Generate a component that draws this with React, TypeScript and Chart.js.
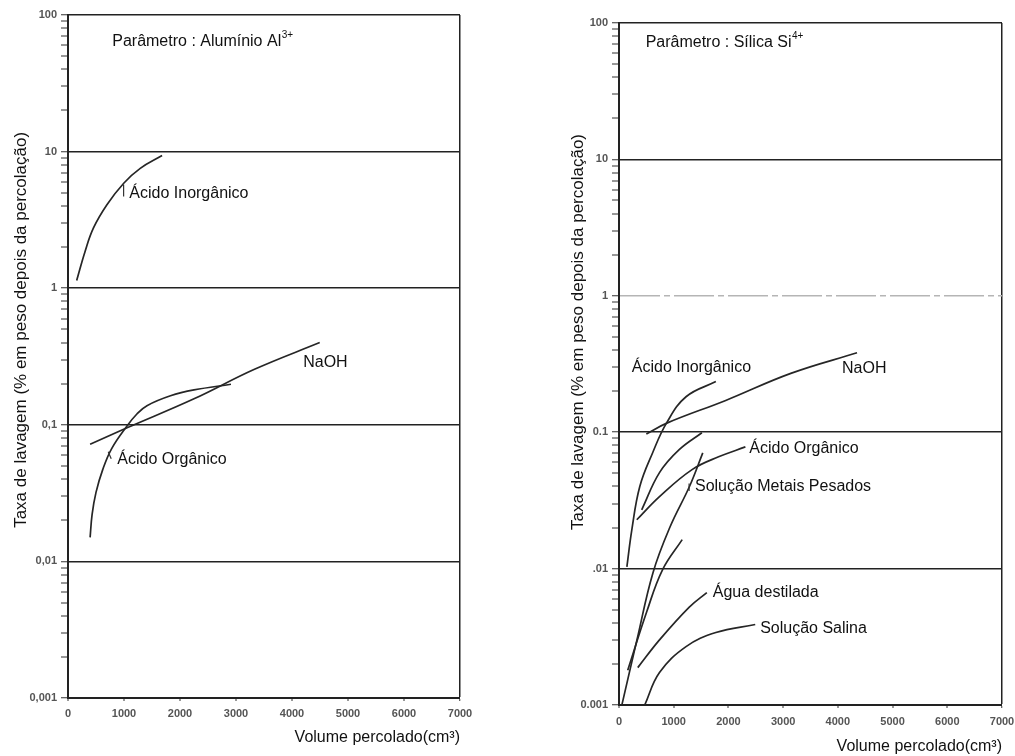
import React, { useEffect, useRef } from "react";
import { Chart, registerables } from "chart.js";

Chart.register(...registerables);

// ---------- data ----------
const xTickValues = [0, 1000, 2000, 3000, 4000, 5000, 6000, 7000];
const yDecades = [0.001, 0.01, 0.1, 1, 10, 100];
const yLabelsAl = ["0,001", "0,01", "0,1", "1", "10", "100"];
const yLabelsSi = ["0.001", ".01", "0.1", "1", "10", "100"];

const xTitle = "Volume percolado(cm³)";
const yTitle = "Taxa de lavagem (% em peso depois da percolação)";

// Left chart: Alumínio Al3+
const alInorgX = [155, 305, 455, 695, 995, 1290, 1680];
const alInorgY = [1.14, 1.86, 2.76, 4.08, 5.87, 7.54, 9.35];
const alNaohX = [395, 1054, 2250, 3330, 4495];
const alNaohY = [0.072, 0.095, 0.155, 0.255, 0.4];
const alOrgX = [395, 430, 500, 620, 780, 1054, 1230, 1410, 1830, 2250, 2910];
const alOrgY = [0.015, 0.022, 0.032, 0.047, 0.067, 0.098, 0.12, 0.138, 0.163, 0.18, 0.198];

// Right chart: Sílica Si4+
const siInorgX = [144, 235, 380, 615, 870, 1225, 1770];
const siInorgY = [0.0103, 0.0193, 0.04, 0.0707, 0.117, 0.182, 0.235];
const siNaohX = [500, 885, 1950, 3140, 4350];
const siNaohY = [0.097, 0.117, 0.171, 0.27, 0.382];
const siCurve3X = [415, 740, 1100, 1515];
const siCurve3Y = [0.027, 0.0505, 0.0744, 0.099];
const siOrgX = [325, 740, 1335, 1820, 2310];
const siOrgY = [0.0228, 0.0337, 0.0532, 0.066, 0.078];
const siMetX = [55, 328, 620, 930, 1294, 1531];
const siMetY = [0.00101, 0.003, 0.0093, 0.0201, 0.0405, 0.0706];
const siCurve7X = [160, 505, 795, 1155];
const siCurve7Y = [0.0018, 0.0048, 0.0098, 0.0163];
const siAguaX = [343, 740, 1280, 1605];
const siAguaY = [0.00188, 0.003, 0.0052, 0.00667];
const siSalX = [470, 740, 1225, 1770, 2490];
const siSalY = [0.001, 0.00173, 0.00268, 0.0034, 0.00389];

// Annotations (anchored in data coordinates)
const alLabels = [
  { text: "Parâmetro : Alumínio Al", sup: "3+", x: 790, y: 63.5 },
  { text: "Ácido Inorgânico", x: 1095, y: 4.93 },
  { text: "NaOH", x: 4200, y: 0.283 },
  { text: "Ácido Orgânico", x: 880, y: 0.0556 },
];
const alLeaders = [
  { x1: 993, y1: 5.74, x2: 993, y2: 4.7 },
  { x1: 718, y1: 0.0635, x2: 772, y2: 0.0565 },
];
const siLabels = [
  { text: "Parâmetro : Sílica Si", sup: "4+", x: 487, y: 71.3 },
  { text: "Ácido Inorgânico", x: 235, y: 0.297 },
  { text: "NaOH", x: 4077, y: 0.292 },
  { text: "Ácido Orgânico", x: 2381, y: 0.0755 },
  { text: "Solução Metais Pesados", x: 1389, y: 0.0398 },
  { text: "Água destilada", x: 1714, y: 0.00669 },
  { text: "Solução Salina", x: 2580, y: 0.00362 },
];
const siLeaders = [{ x1: 1281, y1: 0.042, x2: 1281, y2: 0.037 }];

// ---------- helpers ----------
const FONT = '"Liberation Sans", Arial, Helvetica, sans-serif';
const pts = (xs: number[], ys: number[]) => xs.map((x, i) => ({ x, y: ys[i] }));
const isDecade = (v: number) => Math.abs(Math.log10(v) - Math.round(Math.log10(v))) < 1e-6;
const logTickValues = (decades: number[]) => {
  const out: number[] = [];
  decades.forEach((d, i) => {
    if (i === decades.length - 1) {
      out.push(d);
      return;
    }
    for (let k = 1; k <= 9; k++) out.push(Number((d * k).toPrecision(3)));
  });
  return out;
};

function makeAnnotPlugin(labels: any[], leaders: any[], titleDx: number, titleFrac: number) {
  return {
    id: "annot",
    afterDatasetsDraw(chart: any) {
      const { ctx, chartArea } = chart;
      const xs = chart.scales.x;
      const ys = chart.scales.y;
      ctx.save();
      ctx.strokeStyle = "#333";
      ctx.lineWidth = 1.2;
      leaders.forEach((l) => {
        ctx.beginPath();
        ctx.moveTo(xs.getPixelForValue(l.x1), ys.getPixelForValue(l.y1));
        ctx.lineTo(xs.getPixelForValue(l.x2), ys.getPixelForValue(l.y2));
        ctx.stroke();
      });
      ctx.fillStyle = "#111";
      ctx.textBaseline = "middle";
      ctx.textAlign = "left";
      labels.forEach((a) => {
        const px = xs.getPixelForValue(a.x);
        const py = ys.getPixelForValue(a.y);
        ctx.font = `16px ${FONT}`;
        ctx.fillText(a.text, px, py);
        if (a.sup) {
          const w = ctx.measureText(a.text).width;
          ctx.font = `10px ${FONT}`;
          ctx.fillText(a.sup, px + w + 0.5, py - 7);
        }
      });
      // vertical axis title
      ctx.translate(chartArea.left - titleDx, chartArea.top + (chartArea.bottom - chartArea.top) * titleFrac);
      ctx.rotate(-Math.PI / 2);
      ctx.textAlign = "center";
      ctx.font = `17px ${FONT}`;
      ctx.fillText(yTitle, 0, 0);
      ctx.restore();
    },
  };
}

function buildConfig(p: any) {
  const yTicks = logTickValues(yDecades);
  return {
    type: "scatter",
    data: {
      datasets: p.series.map((s: any) => ({
        data: s,
        showLine: true,
        borderColor: "#262626",
        borderWidth: 1.7,
        pointRadius: 0,
        fill: false,
        tension: 0.4,
      })),
    },
    options: {
      animation: false,
      responsive: false,
      events: [],
      layout: { padding: p.padding },
      plugins: { legend: { display: false }, tooltip: { enabled: false } },
      scales: {
        x: {
          type: "linear",
          min: 0,
          max: 7000,
          afterBuildTicks: (s: any) => {
            s.ticks = xTickValues.map((v) => ({ value: v }));
          },
          afterFit: (s: any) => {
            s.height = p.xAxisHeight;
            s.paddingLeft = 0;
            s.paddingRight = 0;
          },
          ticks: {
            autoSkip: false,
            maxRotation: 0,
            padding: p.xTickPadding,
            color: "#555",
            font: { family: FONT, size: 11, weight: "bold" },
            callback: (v: any) => String(v),
          },
          grid: {
            color: "#222",
            lineWidth: (c: any) => (c.tick && c.tick.value === 7000 ? 1.5 : 0),
            tickColor: "#333",
            tickWidth: 1,
            tickLength: 3,
          },
          border: { display: true, color: "#222", width: 2 },
          title: {
            display: true,
            text: xTitle,
            align: "end",
            color: "#111",
            font: { family: FONT, size: 16 },
            padding: { top: 0, bottom: p.xTitlePadBottom },
          },
        },
        y: {
          type: "logarithmic",
          min: 0.001,
          max: 100,
          afterBuildTicks: (s: any) => {
            s.ticks = yTicks.map((v) => ({ value: v, major: isDecade(v) }));
          },
          afterFit: (s: any) => {
            s.width = p.yAxisWidth;
            s.paddingTop = 0;
            s.paddingBottom = 0;
          },
          ticks: {
            autoSkip: false,
            padding: 4,
            color: "#555",
            font: { family: FONT, size: 11, weight: "bold" },
            callback: (v: any) => {
              const i = yDecades.findIndex((d) => Math.abs(d - v) / d < 1e-6);
              return i >= 0 ? p.yLabels[i] : "";
            },
          },
          grid: {
            color: (c: any) =>
              c.tick && p.fadedOne && Math.abs(c.tick.value - 1) < 1e-9 ? "#b5b5b5" : "#222",
            lineWidth: (c: any) => (c.tick && isDecade(c.tick.value) ? 1.5 : 0),
            tickColor: "#333",
            tickWidth: 1,
            tickLength: 7,
          },
          border: {
            display: true,
            color: "#222",
            width: 2,
            dash: (c: any) =>
              c.tick && p.fadedOne && Math.abs(c.tick.value - 1) < 1e-9 ? [40, 4, 6, 4] : [],
          },
          title: { display: false },
        },
      },
    },
    plugins: [makeAnnotPlugin(p.labels, p.leaders, p.titleDx, p.titleFrac)],
  };
}

function LogChart({ params, left, width }: { params: any; left: number; width: number }) {
  const ref = useRef<HTMLCanvasElement>(null);
  useEffect(() => {
    const chart = new Chart(ref.current as HTMLCanvasElement, buildConfig(params) as any);
    return () => chart.destroy();
  }, []);
  return (
    <canvas
      ref={ref}
      width={width}
      height={756}
      style={{ position: "absolute", left, top: 0, width, height: 756, display: "block" }}
    />
  );
}

const alParams = {
  series: [pts(alInorgX, alInorgY), pts(alNaohX, alNaohY), pts(alOrgX, alOrgY)],
  yLabels: yLabelsAl,
  labels: alLabels,
  leaders: alLeaders,
  padding: { left: 0, right: 40, top: 15, bottom: 0 },
  yAxisWidth: 68,
  xAxisHeight: 58,
  xTickPadding: 6,
  xTitlePadBottom: 9,
  titleDx: 47,
  titleFrac: 0.461,
  fadedOne: false,
};

const siParams = {
  series: [
    pts(siInorgX, siInorgY),
    pts(siNaohX, siNaohY),
    pts(siCurve3X, siCurve3Y),
    pts(siOrgX, siOrgY),
    pts(siMetX, siMetY),
    pts(siCurve7X, siCurve7Y),
    pts(siAguaX, siAguaY),
    pts(siSalX, siSalY),
  ],
  yLabels: yLabelsSi,
  labels: siLabels,
  leaders: siLeaders,
  padding: { left: 0, right: 13, top: 23, bottom: 0 },
  yAxisWidth: 99,
  xAxisHeight: 51,
  xTickPadding: 7,
  xTitlePadBottom: 0,
  titleDx: 41,
  titleFrac: 0.453,
  fadedOne: true,
};

export default function App() {
  return (
    <div
      style={{
        position: "absolute",
        left: 0,
        top: 0,
        width: 1015,
        height: 756,
        background: "#fff",
        overflow: "hidden",
      }}
    >
      <LogChart params={alParams} left={0} width={500} />
      <LogChart params={siParams} left={520} width={495} />
    </div>
  );
}
